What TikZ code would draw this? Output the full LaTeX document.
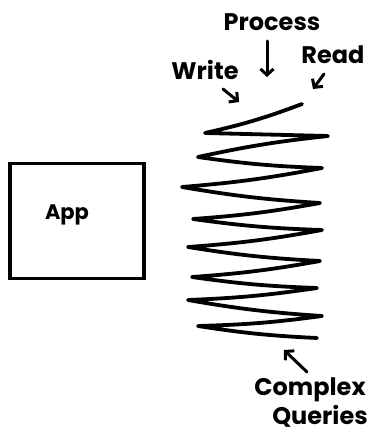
\documentclass[tikz,border=0pt]{standalone}
\usepackage{fontspec}
\setmainfont{Poppins}
\usetikzlibrary{arrows.meta}
\begin{document}
\begin{tikzpicture}[x=1pt,y=-1pt,
  lbl/.style={font=\fontsize{24}{26}\selectfont\bfseries, inner sep=0pt},
  arr/.style={line width=3pt, line cap=round, -{Straight Barb[length=6pt,width=13pt,line width=3pt]}},
  zig/.style={line width=3.8pt, line cap=round, line join=round},
  boxstyle/.style={draw, line width=3.6pt, minimum width=134pt, minimum height=115pt, inner sep=0pt}]
\useasboundingbox (0,0) rectangle (376,436);
% App box
\node[boxstyle] (app) at (77,221) {};
\node[lbl, font=\fontsize{21}{23}\selectfont\bfseries] (applbl) at (67,215) {App};
% zigzag
\draw[zig] (302,104) to[bend left=4] (205,133) -- (328,136) to[bend right=3] (198,157) to[bend right=3] (322,168)
  to[bend left=3] (182,187) to[bend right=3] (320,203) to[bend left=3] (193,219) to[bend right=3] (322,230) to[bend left=3] (188,247)
  to[bend right=3] (320,261) to[bend left=3] (192,277) to[bend right=3] (317,288) to[bend left=3] (188,300) to[bend right=3] (322,316)
  to[bend left=3] (198,326) to[bend right=3] (317,338);
% labels
\node[lbl] (process) at (272,22) {Process};
\node[lbl] (write) at (205,70) {Write};
\node[lbl] (read) at (333,55) {Read};
\node[lbl] (complex) at (310,390) {Complex};
\node[lbl] (queries) at (320,416) {Queries};
% arrow endpoints
\coordinate (p1) at (267,41);
\coordinate (p2) at (267,77);
\coordinate (w1) at (223,89);
\coordinate (w2) at (239,102);
\coordinate (r1) at (324,74);
\coordinate (r2) at (313,89);
\coordinate (c1) at (307,372);
\coordinate (c2) at (284,350);
\draw[arr] (p1) -- (p2);
\draw[arr] (w1) -- (w2);
\draw[arr] (r1) -- (r2);
\draw[arr] (c1) -- (c2);
\end{tikzpicture}
\end{document}
